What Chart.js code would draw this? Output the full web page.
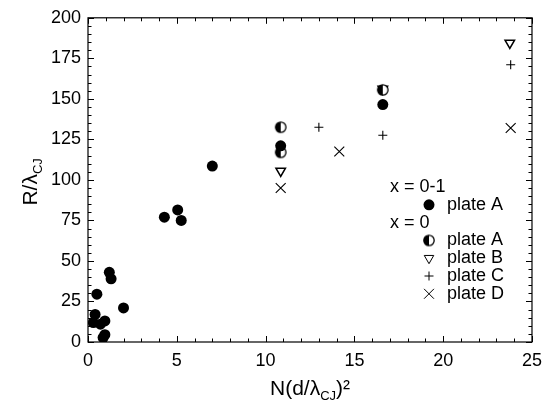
<!DOCTYPE html>
<html>
<head>
<meta charset="utf-8">
<script src="https://cdn.jsdelivr.net/npm/chart.js@4/dist/chart.umd.min.js"></script>
<style>
  html, body { margin: 0; padding: 0; background: #fff; }
  #wrap { width: 550px; height: 407px; }
</style>
</head>
<body>
<div id="wrap"><canvas id="chart" width="550" height="407"></canvas></div>
<script>
// x = 0-1, plate A (filled circles)
const mixA_x = [0.3, 0.4, 0.5, 0.7, 0.85, 0.95, 0.95, 1.2, 1.3, 2.0, 4.3, 5.05, 5.25, 7.0, 10.85, 16.6];
const mixA_y = [12, 17, 29.5, 11, 2.7, 4.5, 13, 43, 39, 21, 77, 81.5, 75, 108.5, 121, 146.5];
// x = 0 plates
const zeroA_x = [10.85, 10.85, 16.6];
const zeroA_y = [132.5, 117, 155.5];
const zeroB_x = [10.85, 16.6, 23.75];
const zeroB_y = [105.5, 156, 184.5];
const zeroC_x = [10.85, 13.0, 16.6, 23.8];
const zeroC_y = [117, 132.5, 127.5, 171];
const zeroD_x = [10.85, 14.15, 23.8];
const zeroD_y = [95, 117.5, 132];

const legendRows = [
  { text: "x = 0-1", header: true },
  { text: "plate A", series: 0 },
  { text: "x = 0", header: true },
  { text: "plate A", series: 1 },
  { text: "plate B", series: 2 },
  { text: "plate C", series: 3 },
  { text: "plate D", series: 4 }
];

const FONT = "'Liberation Sans', Arial, sans-serif";

// half filled circle marker
function halfCircle(r) {
  const c = document.createElement("canvas");
  const s = Math.ceil(r * 2 + 3);
  c.width = s; c.height = s;
  const g = c.getContext("2d");
  const m = s / 2;
  g.fillStyle = "#fff";
  g.beginPath(); g.arc(m, m, r, 0, Math.PI * 2); g.fill();
  g.fillStyle = "#000";
  g.beginPath(); g.arc(m, m, r, Math.PI / 2, Math.PI * 1.5); g.closePath(); g.fill();
  g.strokeStyle = "#000"; g.lineWidth = 1.3;
  g.beginPath(); g.arc(m, m, r, 0, Math.PI * 2); g.stroke();
  return c;
}
const halfImg = halfCircle(5.2);

function pts(xs, ys) { return xs.map((x, i) => ({ x: x, y: ys[i] })); }

const styles = [
  { pointStyle: "circle", radius: 5.5, borderWidth: 0, backgroundColor: "#000", rotation: 0 },
  { pointStyle: halfImg, radius: 5, borderWidth: 0, backgroundColor: "#000", rotation: 0 },
  { pointStyle: "triangle", radius: 5.5, borderWidth: 1.5, backgroundColor: "rgba(0,0,0,0)", rotation: 180 },
  { pointStyle: "cross", radius: 4.5, borderWidth: 1.1, backgroundColor: "rgba(0,0,0,0)", rotation: 0 },
  { pointStyle: "crossRot", radius: 7, borderWidth: 1.1, backgroundColor: "rgba(0,0,0,0)", rotation: 0 }
];

function ds(label, xs, ys, st) {
  return {
    label: label,
    data: pts(xs, ys),
    showLine: false,
    pointStyle: st.pointStyle,
    pointRadius: st.radius,
    pointHoverRadius: st.radius,
    pointRotation: st.rotation,
    pointBorderWidth: st.borderWidth,
    pointBorderColor: "#000",
    pointBackgroundColor: st.backgroundColor
  };
}

// frame, inward ticks, axis titles and legend
const decor = {
  id: "decor",
  afterDraw(chart) {
    const ctx = chart.ctx;
    const a = chart.chartArea;
    const xs = chart.scales.x, ys = chart.scales.y;
    ctx.save();
    ctx.strokeStyle = "#000";
    ctx.lineWidth = 1.2;
    ctx.strokeRect(a.left, a.top, a.right - a.left, a.bottom - a.top);
    ctx.lineWidth = 1;
    ctx.beginPath();
    for (let v = 0; v <= 25; v += 1) {
      const p = Math.round(xs.getPixelForValue(v)) + 0.5;
      const len = v % 5 === 0 ? 6 : 3.5;
      ctx.moveTo(p, a.bottom); ctx.lineTo(p, a.bottom - len);
      ctx.moveTo(p, a.top); ctx.lineTo(p, a.top + len);
    }
    for (let v = 0; v <= 200; v += 5) {
      const p = Math.round(ys.getPixelForValue(v)) + 0.5;
      const len = v % 25 === 0 ? 6 : 3.5;
      ctx.moveTo(a.left, p); ctx.lineTo(a.left + len, p);
      ctx.moveTo(a.right, p); ctx.lineTo(a.right - len, p);
    }
    ctx.stroke();

    ctx.fillStyle = "#000";
    ctx.textBaseline = "alphabetic";
    // x title
    const big = "21px " + FONT, small = "13px " + FONT;
    ctx.font = big; const w1 = ctx.measureText("N(d/λ").width;
    ctx.font = small; const w2 = ctx.measureText("CJ").width;
    ctx.font = big; const w3 = ctx.measureText(")²").width;
    let x0 = (a.left + a.right) / 2 - (w1 + w2 + w3) / 2;
    const by = 395;
    ctx.textAlign = "left";
    ctx.font = big; ctx.fillText("N(d/λ", x0, by);
    ctx.font = small; ctx.fillText("CJ", x0 + w1, by + 5);
    ctx.font = big; ctx.fillText(")²", x0 + w1 + w2, by);

    // y title
    ctx.save();
    ctx.translate(37, (a.top + a.bottom) / 2 + 2);
    ctx.rotate(-Math.PI / 2);
    ctx.font = big; const t1 = ctx.measureText("R/λ").width;
    ctx.font = small; const t2 = ctx.measureText("CJ").width;
    const s0 = -(t1 + t2) / 2;
    ctx.font = big; ctx.fillText("R/λ", s0, 0);
    ctx.font = small; ctx.fillText("CJ", s0 + t1, 5);
    ctx.restore();

    // legend
    ctx.font = "18px " + FONT;
    ctx.textBaseline = "middle";
    legendRows.forEach((row, i) => {
      const y = 187 + i * 17.8;
      if (row.header) {
        ctx.fillText(row.text, 390, y);
      } else {
        const st = styles[row.series];
        ctx.fillStyle = st.backgroundColor;
        ctx.strokeStyle = "#000";
        Chart.helpers.drawPoint(ctx, {
          pointStyle: st.pointStyle, radius: st.radius,
          rotation: st.rotation, borderWidth: st.borderWidth
        }, 429, y);
        ctx.fillStyle = "#000";
        ctx.fillText(row.text, 447, y);
      }
    });
    ctx.restore();
  }
};

new Chart(document.getElementById("chart"), {
  type: "scatter",
  data: {
    datasets: [
      ds("x = 0-1 plate A", mixA_x, mixA_y, styles[0]),
      ds("x = 0 plate A", zeroA_x, zeroA_y, styles[1]),
      ds("x = 0 plate B", zeroB_x, zeroB_y, styles[2]),
      ds("x = 0 plate C", zeroC_x, zeroC_y, styles[3]),
      ds("x = 0 plate D", zeroD_x, zeroD_y, styles[4])
    ]
  },
  options: {
    responsive: false,
    animation: false,
    layout: { padding: { top: 14, right: 14, left: 0, bottom: 0 } },
    plugins: { legend: { display: false }, tooltip: { enabled: false } },
    scales: {
      x: {
        type: "linear", min: 0, max: 25,
        grid: { display: false, drawTicks: false },
        border: { display: false },
        ticks: { stepSize: 5, padding: 8, color: "#000", font: { family: FONT, size: 18 } },
        afterFit(s) { s.height = 65; }
      },
      y: {
        type: "linear", min: 0, max: 200,
        grid: { display: false, drawTicks: false },
        border: { display: false },
        ticks: { stepSize: 25, padding: 7, color: "#000", font: { family: FONT, size: 18 } },
        afterFit(s) { s.width = 88; }
      }
    }
  },
  plugins: [decor]
});
</script>
</body>
</html>
